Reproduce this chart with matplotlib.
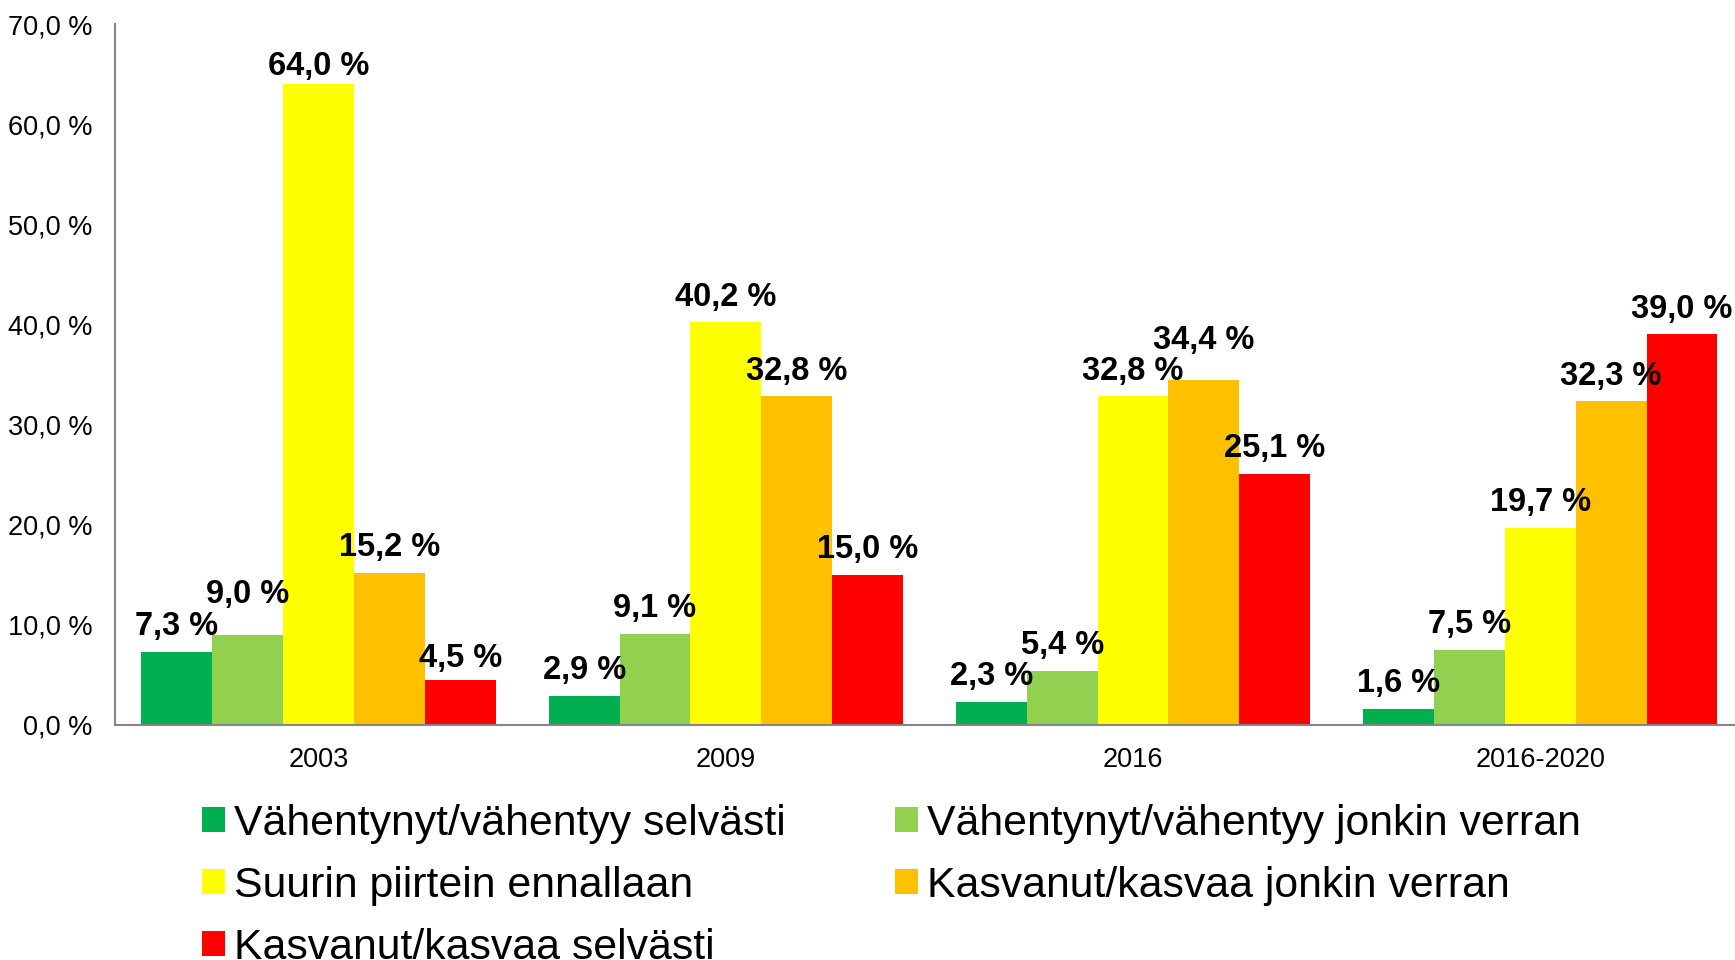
import numpy as np
import matplotlib.pyplot as plt
from matplotlib.ticker import FuncFormatter

plt.rcParams['font.family'] = ['Liberation Sans', 'DejaVu Sans']

categories = ['2003', '2009', '2016', '2016-2020']
series_names = ['Vähentynyt/vähentyy selvästi',
                'Vähentynyt/vähentyy jonkin verran',
                'Suurin piirtein ennallaan',
                'Kasvanut/kasvaa jonkin verran',
                'Kasvanut/kasvaa selvästi']
vahentynyt_selvasti = [7.3, 2.9, 2.3, 1.6]
vahentynyt_jonkin = [9.0, 9.1, 5.4, 7.5]
ennallaan = [64.0, 40.2, 32.8, 19.7]
kasvanut_jonkin = [15.2, 32.8, 34.4, 32.3]
kasvanut_selvasti = [4.5, 15.0, 25.1, 39.0]
colors = ['#00B050', '#92D050', '#FFFF00', '#FFC000', '#FF0000']

series = [vahentynyt_selvasti, vahentynyt_jonkin, ennallaan,
          kasvanut_jonkin, kasvanut_selvasti]

# some labels were nudged by hand in the original (series, category) -> points
label_nudge = {(1, 0): 22.5, (3, 2): 22.5, (2, 0): 6.5, (4, 0): 9}

fig = plt.figure(figsize=(17.35, 9.6), dpi=100)
ax = fig.add_axes([0.0663, 0.245, 0.9388, 0.730])

x = np.arange(len(categories))
w = 0.174
bars = []
for i, (vals, name, col) in enumerate(zip(series, series_names, colors)):
    b = ax.bar(x + (i - 2) * w, vals, w, color=col, label=name)
    bars.append(b)
    for j, (xi, v) in enumerate(zip(x + (i - 2) * w, vals)):
        dy = label_nudge.get((i, j), 12)
        ax.annotate(f'{v:.1f} %'.replace('.', ','), (xi, v), xytext=(0, dy),
                    textcoords='offset points', ha='center', va='baseline',
                    fontsize=23.5, fontweight='bold')

ax.set_xlim(-0.5, 3.5)
ax.set_ylim(0, 70)
ax.set_yticks(np.arange(0, 71, 10))
ax.yaxis.set_major_formatter(FuncFormatter(lambda v, p: f'{v:.1f} %'.replace('.', ',')))
ax.set_xticks(x)
ax.set_xticklabels(categories)
ax.tick_params(axis='both', length=0, labelsize=19.5, pad=16)
for s in ['top', 'right']:
    ax.spines[s].set_visible(False)
for s in ['left', 'bottom']:
    ax.spines[s].set_color('#868686')
    ax.spines[s].set_linewidth(1.5)

# row-major order like the original legend
order = [0, 2, 4, 1, 3]
fig.legend(handles=[bars[k] for k in order], loc='upper left',
           bbox_to_anchor=(0.1164, 0.163),
           ncol=2, frameon=False, fontsize=30.75, borderpad=0, borderaxespad=0,
           handlelength=0.53, handleheight=0.53, handletextpad=0.22,
           columnspacing=2.56, labelspacing=0.52)

fig.savefig('out.png', dpi=100)
